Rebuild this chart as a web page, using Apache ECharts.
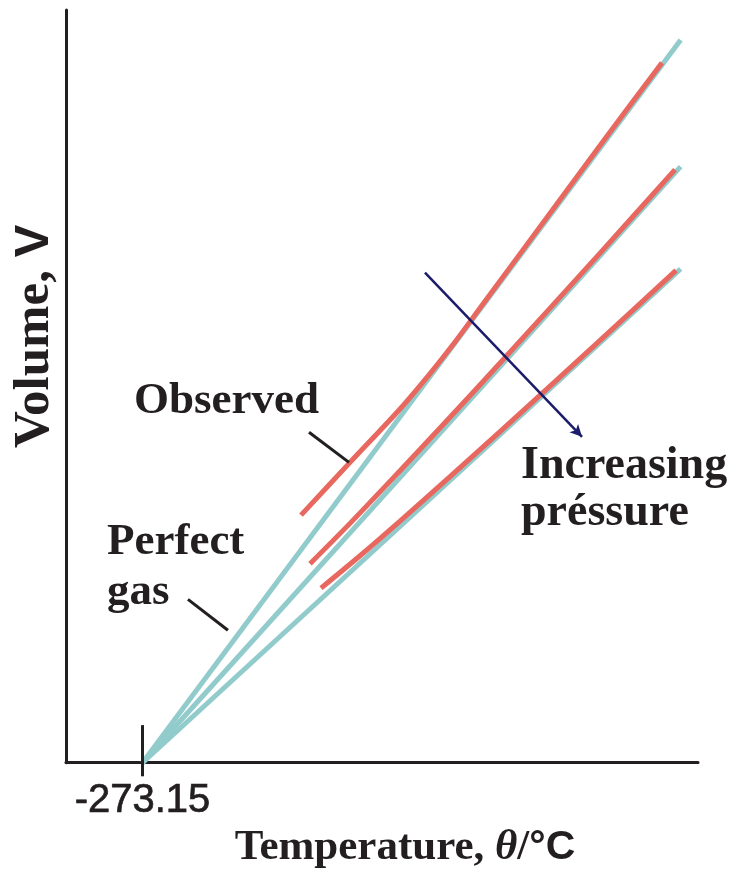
<!DOCTYPE html>
<html>
<head>
<meta charset="utf-8">
<script src="https://cdn.jsdelivr.net/npm/echarts@6/dist/echarts.min.js"></script>
<style>
html,body{margin:0;padding:0;background:#fff;}
#chart{width:737px;height:874px;}
</style>
</head>
<body>
<div id="chart"></div>
<script>
// ---- data (temperature in °C, volume in arbitrary units) ----
const absZero = -273.15;
const perfectT = [-273.15, 408];
const perfectV1 = [0, 9.60];   // lowest pressure
const perfectV2 = [0, 7.92];
const perfectV3 = [0, 6.56];   // highest pressure

const obsT1 = [-72.5, -10.5, 52.8, 90.8, 122.4, 154.1, 204.7, 306, 384.4];
const obsV1 = [3.29, 3.99, 4.70, 5.17, 5.59, 6.04, 6.76, 8.20, 9.30];
const obsT2 = [-61.1, -10.5, 52.8, 116.1, 179.4, 306, 400.9];
const obsV2 = [2.645, 3.18, 3.88, 4.59, 5.31, 6.77, 7.88];
const obsT3 = [-47.2, 2.2, 52.8, 116.1, 179.4, 306, 402.2];
const obsV3 = [2.32, 2.75, 3.21, 3.80, 4.40, 5.61, 6.54];

const arrowT = [84.4, 283.2];
const arrowV = [6.51, 4.33];
const obsLeaderT = [-62.4, -11.8];
const obsLeaderV = [4.39, 3.99];
const gasLeaderT = [-215.6, -165];
const gasLeaderV = [2.17, 1.76];
const zeroTickV = [0.5, -0.18];

const tickLabels = ['-273.15'];

const zip = (xs, ys) => xs.map((x, i) => [x, ys[i]]);

const CYAN = '#92cbcb';
const RED = '#e8675f';
const INK = '#231f20';
const NAVY = '#1c1c6b';
const SERIF = "'Liberation Serif', 'Times New Roman', serif";
const SANS = "'Liberation Sans', Arial, sans-serif";

function lineSeries(data, color, width, z, extra) {
  return Object.assign({
    type: 'line', data: data, symbol: 'none', silent: true,
    lineStyle: { color: color, width: width, cap: 'butt' },
    z: z, clip: false, animation: false
  }, extra || {});
}

const chart = echarts.init(document.getElementById('chart'), null, { renderer: 'canvas' });
chart.setOption({
  animation: false,
  backgroundColor: '#ffffff',
  grid: { left: 66, right: 39, top: 10, bottom: 104, containLabel: false },
  xAxis: {
    type: 'value', min: -370, max: 430,
    axisLine: { show: true, onZero: false, lineStyle: { color: INK, width: 3 } },
    axisTick: { show: false },
    splitLine: { show: false },
    axisLabel: {
      show: true, customValues: [absZero], margin: 18,
      formatter: () => tickLabels[0],
      color: INK, fontFamily: SANS, fontSize: 40,
      textBorderColor: INK, textBorderWidth: 0.7
    },
    name: 'Temperature, {i|θ}/{s|°C}',
    nameLocation: 'middle', nameGap: 63,
    nameTextStyle: {
      color: INK, fontFamily: SERIF, fontWeight: 'bold', fontSize: 43,
      padding: [0, 0, 0, 46],
      rich: {
        i: { fontFamily: SERIF, fontStyle: 'italic', fontSize: 43, color: INK },
        s: { fontFamily: SANS, fontSize: 41, color: INK }
      }
    }
  },
  yAxis: {
    type: 'value', min: 0, max: 10,
    axisLine: { show: true, onZero: false, lineStyle: { color: INK, width: 3 } },
    axisTick: { show: false },
    splitLine: { show: false },
    axisLabel: { show: false },
    name: 'Volume, {v|V}',
    nameLocation: 'middle', nameRotate: 90, nameGap: 6,
    nameTextStyle: {
      color: INK, fontFamily: SERIF, fontWeight: 'bold', fontSize: 51,
      padding: [0, 0, 0, 100],
      rich: {
        v: { fontFamily: SANS, fontWeight: 'bold', fontSize: 49, color: INK }
      }
    }
  },
  series: [
    lineSeries(zip(perfectT, perfectV1), CYAN, 5, 2),
    lineSeries(zip(perfectT, perfectV2), CYAN, 5, 2),
    lineSeries(zip(perfectT, perfectV3), CYAN, 5, 2),
    lineSeries(zip(obsT1, obsV1), RED, 5, 3, { smooth: 0.3 }),
    lineSeries(zip(obsT2, obsV2), RED, 5, 3, { smooth: 0.3 }),
    lineSeries(zip(obsT3, obsV3), RED, 5, 3, { smooth: 0.3 }),
    lineSeries(zip(obsLeaderT, obsLeaderV), INK, 3, 4),
    lineSeries(zip(gasLeaderT, gasLeaderV), INK, 3, 4),
    lineSeries([[absZero, zeroTickV[0]], [absZero, zeroTickV[1]]], INK, 3, 4),
    {
      type: 'line', data: [], silent: true, animation: false,
      z: 5,
      markLine: {
        silent: true, animation: false,
        symbol: ['none', 'arrow'], symbolSize: [9, 12],
        label: { show: false },
        lineStyle: { color: NAVY, width: 2.5, type: 'solid' },
        data: [[{ coord: [arrowT[0], arrowV[0]] }, { coord: [arrowT[1], arrowV[1]] }]]
      }
    }
  ],
  graphic: [
    { type: 'text', x: 134, y: 401, z: 10, silent: true,
      style: { text: 'Observed', fontFamily: SERIF, fontWeight: 'bold', fontSize: 45,
               fill: INK, textAlign: 'left', textVerticalAlign: 'middle' } },
    { type: 'text', x: 107, y: 517, z: 10, silent: true,
      style: { text: 'Perfect\ngas', fontFamily: SERIF, fontWeight: 'bold', fontSize: 45,
               lineHeight: 50, fill: INK, textAlign: 'left', textVerticalAlign: 'top' } },
    { type: 'text', x: 521, y: 443, z: 10, silent: true,
      style: { text: 'Increasing\npréssure', fontFamily: SERIF, fontWeight: 'bold', fontSize: 46,
               lineHeight: 47, fill: INK, textAlign: 'left', textVerticalAlign: 'top' } }
  ]
});
</script>
</body>
</html>
